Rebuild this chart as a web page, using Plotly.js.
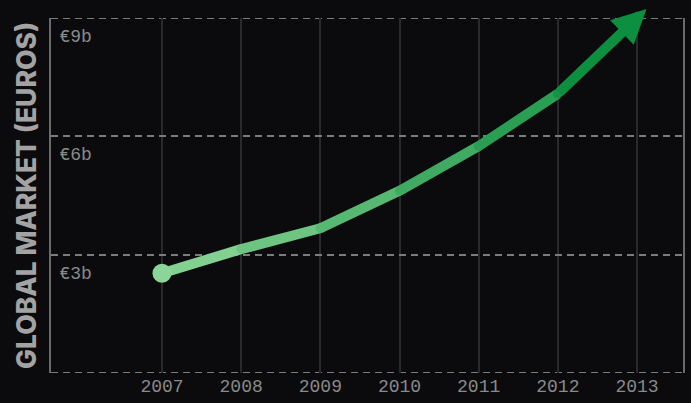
<!DOCTYPE html>
<html>
<head>
<meta charset="utf-8">
<script src="https://cdn.plot.ly/plotly-3.0.1.min.js"></script>
<style>
html,body{margin:0;padding:0;background:#0b0b0d;}
#chart{width:691px;height:403px;}
</style>
</head>
<body>
<div id="chart"></div>
<script>
// ---- data ----
var years = [2007, 2008, 2009, 2010, 2011, 2012, 2013];
var marketBn = [2.53, 3.14, 3.67, 4.62, 5.75, 7.08, 9.0];
var yTickVals = [0, 3, 6, 9];
var yTickText = ['', '€3b', '€6b', '€9b'];
var segColors = ['#83d190', '#6dc581', '#57b872', '#41aa62', '#2a9e53', '#159445'];
var arrowColor = '#0d8f40';
var arrowOvershoot = 0.12;

var lineWidth = 10;
var traces = [];
var n = years.length;
// gradient-like line: one trace per segment up to the second-to-last point
for (var i = 0; i < n - 2; i++) {
  traces.push({
    type: 'scatter', mode: 'lines',
    x: [years[i], years[i + 1]], y: [marketBn[i], marketBn[i + 1]],
    line: {color: segColors[i], width: lineWidth},
    hoverinfo: 'skip', showlegend: false, cliponaxis: false
  });
}
// round joints
traces.push({
  type: 'scatter', mode: 'markers',
  x: years.slice(1, n - 1), y: marketBn.slice(1, n - 1),
  marker: {size: lineWidth - 0.4, color: segColors.slice(1, n - 1), line: {width: 0}},
  hoverinfo: 'skip', showlegend: false, cliponaxis: false
});
// start dot
traces.push({
  type: 'scatter', mode: 'markers',
  x: [years[0]], y: [marketBn[0]],
  marker: {size: 19, color: '#8bd598', line: {width: 0}},
  hoverinfo: 'skip', showlegend: false, cliponaxis: false
});

var lastX = years[n - 1], lastY = marketBn[n - 1];
var prevX = years[n - 2], prevY = marketBn[n - 2];
var tipX = lastX + arrowOvershoot * (lastX - prevX);
var tipY = lastY + arrowOvershoot * (lastY - prevY);

var gridFont = {family: 'Liberation Mono, DejaVu Sans Mono, monospace', size: 18, color: '#8a8a8a'};

var layout = {
  width: 691, height: 403,
  margin: {l: 51, r: 8, t: 18, b: 30, pad: 0},
  paper_bgcolor: '#0b0b0d', plot_bgcolor: '#0b0b0d',
  showlegend: false,
  xaxis: {
    range: [2005.598, 2013.581],
    tickvals: years, ticktext: years.map(String),
    showgrid: true, gridcolor: '#2a2a2c', gridwidth: 2,
    zeroline: false, showline: false, ticks: '',
    tickfont: gridFont,
    fixedrange: true
  },
  yaxis: {
    range: [0, 9],
    tickvals: yTickVals, ticktext: yTickText,
    showgrid: true, gridcolor: '#7c7c7c', gridwidth: 2, griddash: '7px,5px',
    zeroline: false,
    showline: true, mirror: true, linecolor: '#6a6a6a', linewidth: 2,
    ticks: '', ticklabelposition: 'inside bottom', ticklabelstandoff: 8, ticklabelshift: 5,
    tickfont: gridFont,
    title: {text: 'GLOBAL MARKET (EUROS)', standoff: 15,
      font: {family: 'Inter, Liberation Sans, Arial, sans-serif', size: 26.5, color: '#a3a3a3', weight: 800}},
    fixedrange: true
  },
  shapes: [yTickVals[0], yTickVals[yTickVals.length - 1]].map(function (v) {
    return {type: 'line', xref: 'paper', x0: 0, x1: 1, yref: 'y', y0: v, y1: v,
      line: {color: '#7c7c7c', width: 2, dash: '7px,5px'}, layer: 'below'};
  }),
  annotations: [{
    x: tipX, y: tipY, xref: 'x', yref: 'y',
    ax: prevX, ay: prevY, axref: 'x', ayref: 'y',
    text: '', showarrow: true,
    arrowhead: 2, arrowsize: 0.68, arrowwidth: lineWidth, arrowcolor: arrowColor,
    standoff: 0, startstandoff: 0
  }]
};

Plotly.newPlot('chart', traces, layout, {displayModeBar: false, staticPlot: true});
</script>
</body>
</html>
